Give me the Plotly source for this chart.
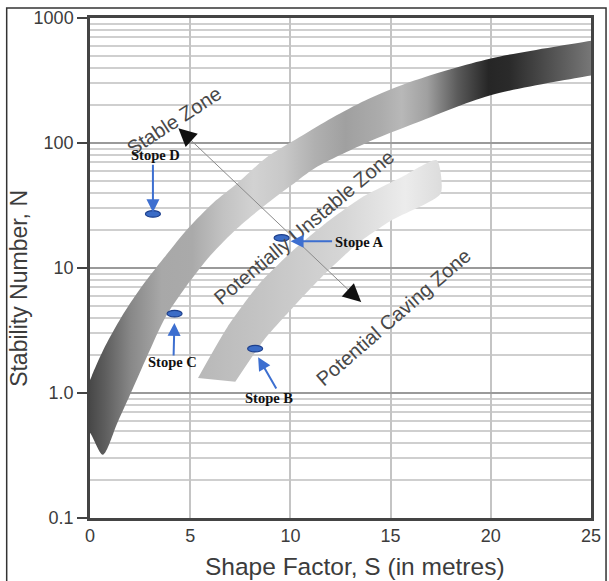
import math
import plotly.graph_objects as go

# ---------------- data ----------------
# Band 1: transition between "Stable" and "Potentially Unstable" (continues slightly beyond the axes)
band1_upper_s = [-0.6, 0, 0.15, 0.74, 1.57, 2.45, 3.68, 4.90, 6.13, 7.35, 8.82, 10.44, 12.11, 13.73, 16.18, 19.95, 25, 27]
band1_upper_n = [0.95, 1.27, 1.45, 2.34, 4.06, 6.65, 12.0, 20.8, 33.0, 47.6, 76.8, 111, 160, 219, 316, 473, 659, 740]
band1_lower_s = [0.64, 1.37, 2.11, 2.84, 3.77, 4.66, 6.03, 7.35, 8.73, 10.05, 11.27, 13.73, 16.18, 19.95, 25, 27]
band1_lower_n = [0.321, 0.578, 1.06, 1.95, 4.06, 6.65, 12.7, 20.8, 31.8, 45.9, 63.8, 99.3, 143, 240, 346, 390]
band1_left_s = [0, -0.6]
band1_left_n = [0.481, 0.6]

# Band 2: transition between "Potentially Unstable" and "Potential Caving"
band2_upper_s = [5.39, 6.86, 8.48, 10.15, 11.76, 13.58, 15.54, 17.3]
band2_upper_n = [1.32, 3.37, 7.58, 13.9, 22.8, 36.8, 53.2, 72.8]
band2_lower_s = [7.25, 8.68, 10.15, 11.76, 13.38, 15.05, 17.5]
band2_lower_n = [1.23, 2.66, 4.88, 9.1, 15.8, 24.1, 39.5]

# Stopes
stope_names = ["Stope A", "Stope B", "Stope C", "Stope D"]
stope_s = [9.56, 8.24, 4.22, 3.14]
stope_n = [16.4, 2.13, 4.06, 25.5]

# Zone labels
zone_labels = ["Stable Zone", "Potentially Unstable Zone", "Potential Caving Zone"]

# Double arrow (direction of increasing instability)
arrow_start = (4.41, 131.0)
arrow_end = (13.53, 5.35)

# Axis ticks and titles
x_ticks = [0, 5, 10, 15, 20, 25]
y_ticks = [0.1, 1, 10, 100, 1000]
y_ticktext = ["0.1", "1.0", "10", "100", "1000"]
y_minor = [m * 10 ** e for e in range(-1, 3) for m in range(2, 10)]
x_title = "Shape Factor, S (in metres)"
y_title = "Stability Number, N"

# ---------------- figure ----------------
SANS = "Liberation Sans, Arial, sans-serif"
SERIF = "Liberation Serif, Times New Roman, serif"

fig = go.Figure()

band1_x = band1_upper_s + band1_lower_s[::-1] + band1_left_s
band1_y = band1_upper_n + band1_lower_n[::-1] + band1_left_n
fig.add_trace(go.Scatter(
    x=band1_x, y=band1_y, mode="lines", fill="toself",
    line=dict(width=0, color="rgba(0,0,0,0)", shape="spline", smoothing=0.8),
    fillgradient=dict(type="horizontal", start=0, stop=25, colorscale=[
        [0.00, "#484848"], [0.03, "#5e5e5e"], [0.08, "#888888"], [0.14, "#a8a8a8"],
        [0.20, "#aaaaaa"], [0.26, "#c2c2c2"], [0.32, "#d2d2d2"], [0.38, "#c8c8c8"],
        [0.44, "#b0b0b0"], [0.50, "#a0a0a0"], [0.57, "#acacac"], [0.61, "#b8b8b8"],
        [0.66, "#a0a0a0"], [0.72, "#5a5a5a"], [0.78, "#262626"], [0.82, "#2a2a2a"],
        [0.90, "#505050"], [1.00, "#808080"]]),
    hoverinfo="skip", showlegend=False))

band2_x = band2_upper_s + band2_lower_s[::-1]
band2_y = band2_upper_n + band2_lower_n[::-1]
fig.add_trace(go.Scatter(
    x=band2_x, y=band2_y, mode="lines", fill="toself",
    line=dict(width=0, color="rgba(0,0,0,0)", shape="spline", smoothing=0.6),
    fillgradient=dict(type="horizontal", colorscale=[
        [0.0, "#b8b8b8"], [0.3, "#c6c6c6"], [0.6, "#d6d6d6"], [0.85, "#ececec"], [1.0, "#dcdcdc"]]),
    hoverinfo="skip", showlegend=False))

annotations = []
shapes = []

# Double-headed arrow: thin grey shaft + black heads
annotations.append(dict(
    x=arrow_end[0], y=math.log10(arrow_end[1]), xref="x", yref="y",
    ax=arrow_start[0], ay=math.log10(arrow_start[1]), axref="x", ayref="y",
    text="", showarrow=True, arrowhead=0, arrowwidth=1, arrowcolor="#8a8a8a"))
annotations.append(dict(
    x=arrow_start[0], y=math.log10(arrow_start[1]), xref="x", yref="y",
    ax=11, ay=10, text="", showarrow=True, arrowhead=2, arrowsize=2.4,
    arrowwidth=1.5, arrowcolor="#111111"))
annotations.append(dict(
    x=arrow_end[0], y=math.log10(arrow_end[1]), xref="x", yref="y",
    ax=-11, ay=-10, text="", showarrow=True, arrowhead=2, arrowsize=2.4,
    arrowwidth=1.5, arrowcolor="#111111"))

# Zone labels
zone_pos = [(4.17, 2.18, -33), (10.69, 1.327, -40), (15.15, 0.608, -41)]
for lab, (zx, zy, ang) in zip(zone_labels, zone_pos):
    annotations.append(dict(
        x=zx, y=zy, xref="x", yref="y", text=lab, showarrow=False,
        textangle=ang, font=dict(family=SANS, size=20, color="#484848")))

# Stope markers, arrows and labels
arrow_tail = {"Stope A": (52, 0, 9), "Stope B": (22, 38, 6),
              "Stope C": (-1, 40, 6), "Stope D": (0, -54, 5)}
label_shift = {"Stope A": (77, -1), "Stope B": (14, -46),
               "Stope C": (-2, -45), "Stope D": (3, 62)}
for name, s, n in zip(stope_names, stope_s, stope_n):
    shapes.append(dict(
        type="circle", xref="x", yref="y", xsizemode="pixel", ysizemode="pixel",
        xanchor=s, yanchor=n, x0=-7.5, x1=7.5, y0=-6.5, y1=6.5,
        fillcolor="#3b6cc6", line=dict(color="#1d3f8c", width=1.2), layer="above"))
    ax, ay, so = arrow_tail[name]
    annotations.append(dict(
        x=s, y=math.log10(n), xref="x", yref="y", text="",
        showarrow=True, ax=ax, ay=ay, standoff=so, arrowhead=2, arrowsize=1.3,
        arrowwidth=2, arrowcolor="#3d6fd0"))
    xs, ys = label_shift[name]
    annotations.append(dict(
        x=s, y=math.log10(n), xref="x", yref="y", text="<b>%s</b>" % name,
        showarrow=False, xshift=xs, yshift=ys,
        font=dict(family=SERIF, size=14.5, color="#111111")))

# Axis titles
annotations.append(dict(x=0.528, y=-0.096, xref="paper", yref="paper", text=x_title,
                        showarrow=False, xanchor="center", yanchor="middle",
                        font=dict(family=SANS, size=24.5, color="#3c3c3c")))
annotations.append(dict(x=-0.141, y=0.459, xref="paper", yref="paper", text=y_title,
                        showarrow=False, xanchor="center", yanchor="middle", textangle=-90,
                        font=dict(family=SANS, size=23, color="#3c3c3c")))

# Outer frame
shapes.append(dict(type="rect", xref="paper", yref="paper",
                   x0=-0.1663, x1=1.03, y0=-0.2, y1=1.02,
                   line=dict(color="#333333", width=1.5), layer="below"))

fig.update_layout(
    width=609, height=581,
    margin=dict(l=90, r=8, t=17, b=63),
    paper_bgcolor="white", plot_bgcolor="white",
    showlegend=False,
    annotations=annotations, shapes=shapes,
    font=dict(family=SANS, color="#3c3c3c"),
    xaxis=dict(
        range=[0, 25], tickvals=x_ticks, showgrid=True, gridcolor="#c4c4c4",
        gridwidth=1.5, zeroline=False, showline=True, mirror=True,
        linecolor="#444444", linewidth=2.5, ticks="",
        tickfont=dict(family=SANS, size=18, color="#3c3c3c")),
    yaxis=dict(
        type="log", range=[-1, 3], tickvals=y_ticks, ticktext=y_ticktext,
        showgrid=True, gridcolor="#9a9a9a", gridwidth=1.5, zeroline=False,
        showline=True, mirror=True, linecolor="#444444", linewidth=2.5,
        ticks="outside", ticklen=10, tickwidth=2, tickcolor="#444444",
        minor=dict(tickvals=y_minor, showgrid=True, gridcolor="#cfcfcf",
                   gridwidth=1.5, ticks=""),
        tickfont=dict(family=SANS, size=18, color="#3c3c3c")),
)

fig.write_html("out.html", config={"displayModeBar": False},
               post_script="document.body.style.margin='0';")
